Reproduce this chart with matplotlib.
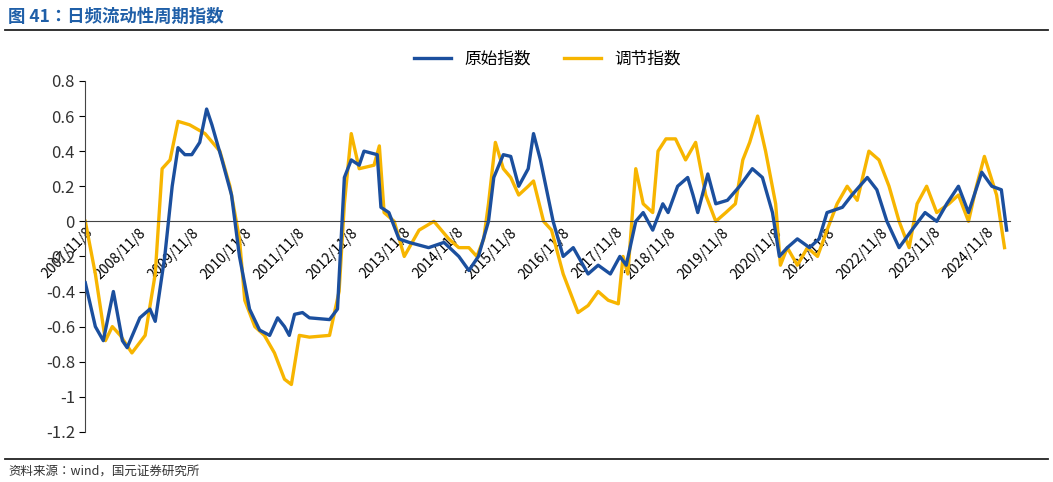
import matplotlib
matplotlib.use("Agg")
import matplotlib.pyplot as plt
from matplotlib.lines import Line2D
from matplotlib import font_manager as fm

cjk = None
for f in fm.fontManager.ttflist:
    if "CJK" in f.name and ("SC" in f.name or cjk is None):
        cjk = f.name
plt.rcParams["font.family"] = [cjk, "DejaVu Sans"] if cjk else ["DejaVu Sans"]

blue_t = [2007.85,2008.04,2008.19,2008.38,2008.55,2008.64,2008.88,2009.07,2009.17,2009.35,2009.49,2009.60,2009.73,2009.86,2010.01,2010.14,2010.24,2010.43,2010.61,2010.76,2010.95,2011.14,2011.33,2011.48,2011.61,2011.70,2011.80,2011.95,2012.08,2012.46,2012.61,2012.74,2012.87,2013.02,2013.11,2013.36,2013.43,2013.58,2013.77,2013.96,2014.33,2014.62,2014.90,2015.09,2015.27,2015.46,2015.56,2015.74,2015.88,2016.03,2016.21,2016.31,2016.44,2016.68,2016.87,2017.06,2017.34,2017.53,2017.76,2017.94,2018.06,2018.24,2018.38,2018.56,2018.75,2018.85,2019.03,2019.22,2019.32,2019.41,2019.60,2019.75,2019.97,2020.20,2020.44,2020.63,2020.82,2020.95,2021.10,2021.29,2021.52,2021.70,2021.85,2022.14,2022.32,2022.61,2022.79,2022.98,2023.21,2023.45,2023.70,2023.92,2024.11,2024.33,2024.52,2024.77,2024.96,2025.14,2025.24]
blue_v = [-0.35,-0.6,-0.68,-0.4,-0.68,-0.72,-0.55,-0.5,-0.57,-0.2,0.2,0.42,0.38,0.38,0.45,0.64,0.55,0.35,0.15,-0.2,-0.5,-0.62,-0.65,-0.55,-0.6,-0.65,-0.53,-0.52,-0.55,-0.56,-0.5,0.25,0.35,0.32,0.4,0.38,0.08,0.05,-0.1,-0.12,-0.15,-0.12,-0.2,-0.28,-0.2,0.0,0.25,0.38,0.37,0.2,0.3,0.5,0.35,0.0,-0.2,-0.15,-0.3,-0.25,-0.3,-0.2,-0.25,0.0,0.05,-0.05,0.1,0.05,0.2,0.25,0.15,0.05,0.27,0.1,0.12,0.2,0.3,0.25,0.05,-0.2,-0.15,-0.1,-0.15,-0.1,0.05,0.08,0.15,0.25,0.18,0.0,-0.15,-0.05,0.05,0.0,0.1,0.2,0.05,0.28,0.2,0.18,-0.05]

adj_t = [2007.85,2008.04,2008.23,2008.36,2008.51,2008.73,2008.98,2009.17,2009.30,2009.45,2009.60,2009.82,2010.11,2010.39,2010.58,2010.76,2010.86,2011.05,2011.23,2011.42,2011.61,2011.74,2011.89,2012.08,2012.46,2012.64,2012.74,2012.87,2013.02,2013.30,2013.40,2013.49,2013.68,2013.87,2014.15,2014.43,2014.71,2014.90,2015.09,2015.24,2015.37,2015.46,2015.59,2015.74,2015.88,2016.03,2016.21,2016.31,2016.50,2016.65,2016.87,2017.06,2017.15,2017.34,2017.53,2017.72,2017.91,2018.00,2018.09,2018.24,2018.38,2018.56,2018.66,2018.81,2018.99,2019.18,2019.37,2019.56,2019.75,2019.94,2020.12,2020.26,2020.39,2020.54,2020.69,2020.88,2020.97,2021.10,2021.29,2021.48,2021.67,2021.85,2022.04,2022.23,2022.42,2022.64,2022.83,2023.02,2023.21,2023.40,2023.55,2023.73,2023.92,2024.15,2024.33,2024.52,2024.67,2024.82,2025.05,2025.20]
adj_v = [0.0,-0.3,-0.68,-0.6,-0.65,-0.75,-0.65,-0.3,0.3,0.35,0.57,0.55,0.5,0.4,0.2,-0.1,-0.45,-0.6,-0.65,-0.75,-0.9,-0.93,-0.65,-0.66,-0.65,-0.4,0.1,0.5,0.3,0.32,0.43,0.05,0.0,-0.2,-0.05,0.0,-0.1,-0.15,-0.15,-0.2,-0.1,0.1,0.45,0.3,0.25,0.15,0.2,0.23,0.0,-0.05,-0.3,-0.45,-0.52,-0.48,-0.4,-0.45,-0.47,-0.2,-0.3,0.3,0.1,0.05,0.4,0.47,0.47,0.35,0.45,0.15,0.0,0.05,0.1,0.35,0.45,0.6,0.4,0.1,-0.25,-0.15,-0.25,-0.15,-0.2,-0.05,0.1,0.2,0.12,0.4,0.35,0.2,0.0,-0.15,0.1,0.2,0.05,0.1,0.15,0.0,0.2,0.37,0.15,-0.15]

tick_years = list(range(2007, 2025))
tick_labels = [f"{y}/11/8" for y in tick_years]
y_ticks = [0.8,0.6,0.4,0.2,0,-0.2,-0.4,-0.6,-0.8,-1,-1.2]

BLUE = "#1b4f9e"
GOLD = "#f7b500"

fig = plt.figure(figsize=(10.53, 4.82), dpi=100)
ax = fig.add_axes([0.081, 0.104, 0.878, 0.728])
ax.plot(blue_t, blue_v, color=BLUE, lw=2.4, label="原始指数", zorder=3)
ax.plot(adj_t, adj_v, color=GOLD, lw=2.4, label="调节指数", zorder=2)
ax.set_xlim(2007.85, 2025.3)
ax.set_ylim(-1.2, 0.8)
ax.set_yticks(y_ticks)
ax.set_yticklabels([f"{v:g}" for v in y_ticks], fontsize=12, color="#333333")
ax.set_xticks([y + 0.855 for y in tick_years])
ax.set_xticklabels(tick_labels, fontsize=12, color="#333333")
for s in ["top", "right"]:
    ax.spines[s].set_visible(False)
ax.spines["bottom"].set_position(("data", 0))
ax.spines["bottom"].set_color("#444444")
ax.spines["left"].set_color("#444444")
ax.tick_params(axis="x", length=0, pad=3)
ax.tick_params(axis="y", length=4, direction="out")
plt.setp(ax.get_xticklabels(), rotation=45, ha="right", rotation_mode="anchor")
ax.legend(loc="upper center", bbox_to_anchor=(0.5, 1.13), ncol=2, frameon=False, fontsize=12, handlelength=2.2, columnspacing=2)

fig.text(0.008, 0.965, "图 41：日频流动性周期指数", color="#1f5fa8", fontsize=12.5, fontweight="bold", va="center")
fig.add_artist(Line2D([0.005, 0.995], [0.938, 0.938], color="#222222", lw=1.3))
fig.add_artist(Line2D([0.005, 0.995], [0.048, 0.048], color="#222222", lw=1.3))
fig.text(0.008, 0.022, "资料来源：wind，国元证券研究所", fontsize=9, color="#333333", va="center")

fig.savefig("out.png", dpi=100)
